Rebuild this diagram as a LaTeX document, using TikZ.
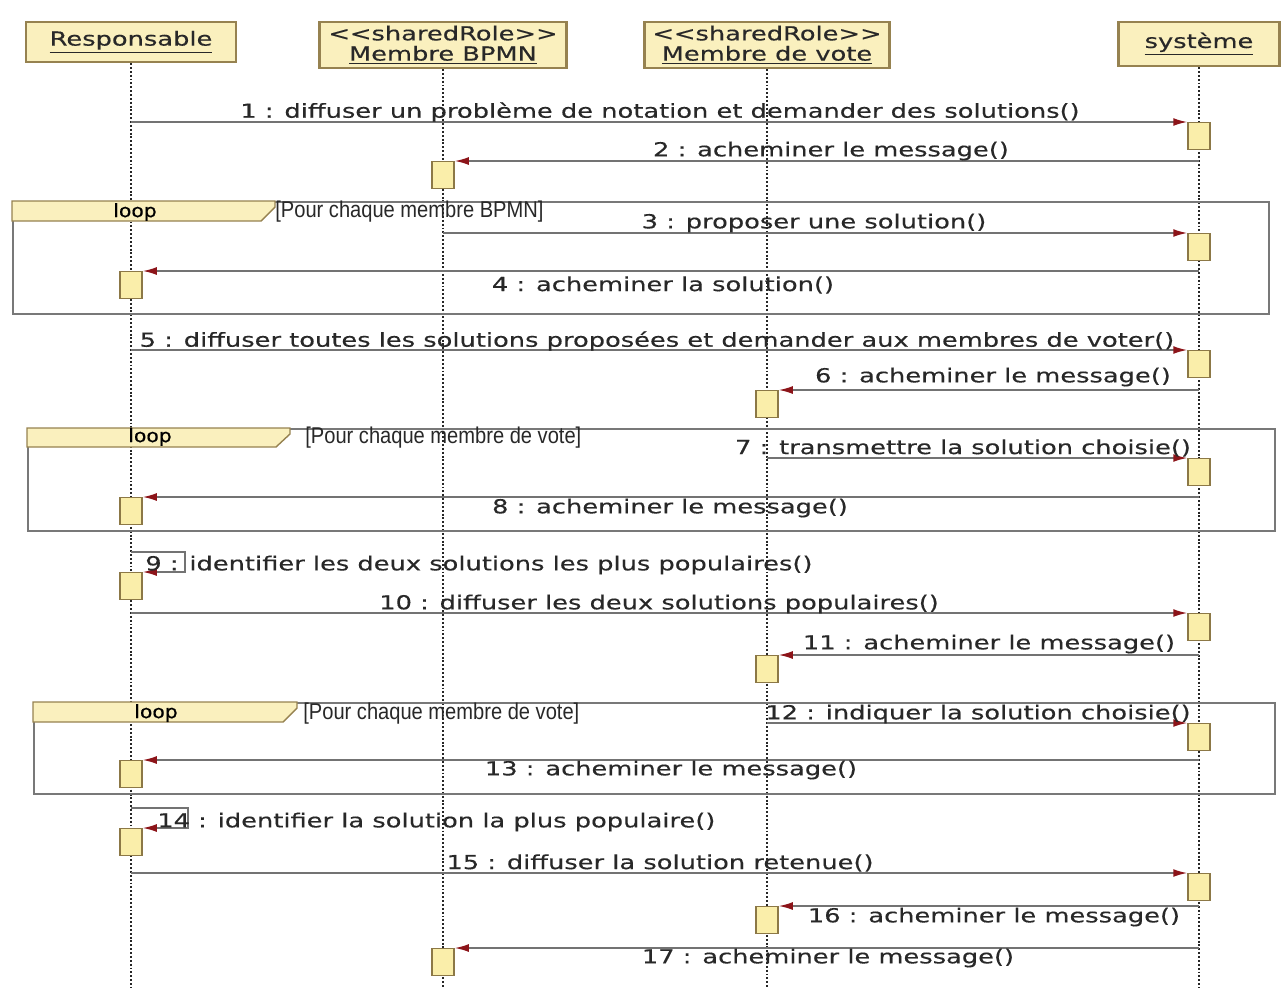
\documentclass[tikz,border=0pt]{standalone}
\usepackage{fontspec}
\usetikzlibrary{arrows.meta}
\newfontfamily\msgfont[FakeStretch=1.33,FakeBold=0.35]{DejaVu Sans}
\newfontfamily\loopfont[FakeStretch=1.1,FakeBold=0.6]{DejaVu Sans}
\newfontfamily\guardfont[FakeStretch=0.88]{Liberation Sans}
\definecolor{hdrfill}{RGB}{250,240,190}
\definecolor{hdrline}{RGB}{150,130,80}
\definecolor{actfill}{RGB}{250,238,170}
\definecolor{actline}{RGB}{140,120,70}
\definecolor{msgline}{RGB}{115,115,115}
\definecolor{tipred}{RGB}{140,20,25}
\definecolor{framegray}{RGB}{120,120,120}
\definecolor{txt}{RGB}{40,40,40}
\begin{document}
\begin{tikzpicture}[x=0.02cm, y=-0.02cm,
  hdr/.style={draw=hdrline, line width=1.2pt, fill=hdrfill, inner sep=0pt, align=center,
    font=\msgfont\fontsize{11}{12.5}\selectfont, text=txt},
  lifeline/.style={draw=black!85, line width=1.1pt, dash pattern=on 1.1pt off 1.1pt},
  act/.style={draw=actline, line width=0.8pt, fill=actfill, minimum width=0.44cm,
    minimum height=0.54cm, inner sep=0pt, anchor=north},
  msg/.style={draw=msgline, line width=0.9pt, -{Latex[length=8pt,width=4.5pt,color=tipred]}},
  lbl/.style={font=\msgfont\fontsize{11}{12}\selectfont, text=txt, inner sep=0pt},
  guard/.style={font=\guardfont\fontsize{13}{15}\selectfont, text=txt, inner sep=0pt, anchor=west},
  looplbl/.style={font=\loopfont\fontsize{10.5}{12}\selectfont, text=black, inner sep=0pt},
  frm/.style={draw=framegray, line width=1pt, inner sep=0pt, anchor=north west},
  tabshape/.style={fill=hdrfill, draw=hdrline, line width=0.8pt}
]
\useasboundingbox (0,0) rectangle (1284,988);

% participants
\node[hdr, minimum width=4.2cm, minimum height=0.8cm] (hResp) at (131,42) {\underline{Responsable}};
\node[hdr, minimum width=4.94cm, minimum height=0.92cm] (hBpmn) at (443,45) {<<sharedRole>>\\[-1pt]\underline{Membre BPMN}};
\node[hdr, minimum width=4.9cm, minimum height=0.92cm] (hVote) at (767,45) {<<sharedRole>>\\[-1pt]\underline{Membre de vote}};
\node[hdr, minimum width=3.22cm, minimum height=0.88cm] (hSys) at (1199,44) {\underline{système}};

% lifelines
\coordinate (eResp) at (131,988);
\coordinate (eBpmn) at (443,988);
\coordinate (eVote) at (767,988);
\coordinate (eSys) at (1199,988);
\draw[lifeline] (hResp.south) -- (eResp);
\draw[lifeline] (hBpmn.south) -- (eBpmn);
\draw[lifeline] (hVote.south) -- (eVote);
\draw[lifeline] (hSys.south) -- (eSys);

% combined fragments
\node[frm, minimum width=25.12cm, minimum height=2.24cm] (loopA) at (12,201) {};
\node[frm, minimum width=24.94cm, minimum height=2.04cm] (loopB) at (27,428) {};
\node[frm, minimum width=24.82cm, minimum height=1.82cm] (loopC) at (33,702) {};
\draw[tabshape] (loopA.north west) -- ++(263,0) -- ++(0,6) -- ++(-14,14) -- ++(-249,0) -- cycle;
\draw[tabshape] (loopB.north west) -- ++(263,0) -- ++(0,6) -- ++(-14,13) -- ++(-249,0) -- cycle;
\draw[tabshape] (loopC.north west) -- ++(264,0) -- ++(0,6) -- ++(-14,14) -- ++(-250,0) -- cycle;
\node[looplbl] (kA) at (135,212) {loop};
\node[looplbl] (kB) at (150,437) {loop};
\node[looplbl] (kC) at (156,713) {loop};
\node[guard] (gA) at (275,212) {[Pour chaque membre BPMN]};
\node[guard] (gB) at (305,438) {[Pour chaque membre de vote]};
\node[guard] (gC) at (303,714) {[Pour chaque membre de vote]};

% message origins on the lifelines
\coordinate (s1) at (131,122);
\coordinate (s2) at (1199,161);
\coordinate (s3) at (443,233);
\coordinate (s4) at (1199,271);
\coordinate (s5) at (131,350);
\coordinate (s6) at (1199,390);
\coordinate (s7) at (767,458);
\coordinate (s8) at (1199,497);
\coordinate (s9) at (131,552);
\coordinate (s10) at (131,613);
\coordinate (s11) at (1199,655);
\coordinate (s12) at (767,723);
\coordinate (s13) at (1199,760);
\coordinate (s14) at (131,808);
\coordinate (s15) at (131,873);
\coordinate (s16) at (1199,906);
\coordinate (s17) at (1199,948);

% activations
\node[act] (a1) at (1199,122) {};
\node[act] (a2) at (443,161) {};
\node[act] (a3) at (1199,233) {};
\node[act] (a4) at (131,271) {};
\node[act] (a5) at (1199,350) {};
\node[act] (a6) at (767,390) {};
\node[act] (a7) at (1199,458) {};
\node[act] (a8) at (131,497) {};
\node[act] (a9) at (131,572) {};
\node[act] (a10) at (1199,613) {};
\node[act] (a11) at (767,655) {};
\node[act] (a12) at (1199,723) {};
\node[act] (a13) at (131,760) {};
\node[act] (a14) at (131,828) {};
\node[act] (a15) at (1199,873) {};
\node[act] (a16) at (767,906) {};
\node[act] (a17) at (443,948) {};

% messages
\draw[msg] (s1) -- (a1.north west);
\draw[msg] (s2) -- (a2.north east);
\draw[msg] (s3) -- (a3.north west);
\draw[msg] (s4) -- (a4.north east);
\draw[msg] (s5) -- (a5.north west);
\draw[msg] (s6) -- (a6.north east);
\draw[msg] (s7) -- (a7.north west);
\draw[msg] (s8) -- (a8.north east);
\draw[msg] (s9) -- ++(54,0) |- (a9.north east);
\draw[msg] (s10) -- (a10.north west);
\draw[msg] (s11) -- (a11.north east);
\draw[msg] (s12) -- (a12.north west);
\draw[msg] (s13) -- (a13.north east);
\draw[msg] (s14) -- ++(57,0) |- (a14.north east);
\draw[msg] (s15) -- (a15.north west);
\draw[msg] (s16) -- (a16.north east);
\draw[msg] (s17) -- (a17.north east);

% message labels
\node[lbl] (t1) at (660,112) {1 : diffuser un problème de notation et demander des solutions()};
\node[lbl] (t2) at (831,151) {2 : acheminer le message()};
\node[lbl] (t3) at (814,223) {3 : proposer une solution()};
\node[lbl] (t4) at (663,285) {4 : acheminer la solution()};
\node[lbl] (t5) at (657,341) {5 : diffuser toutes les solutions proposées et demander aux membres de voter()};
\node[lbl] (t6) at (993,377) {6 : acheminer le message()};
\node[lbl] (t7) at (963,448) {7 : transmettre la solution choisie()};
\node[lbl] (t8) at (670,508) {8 : acheminer le message()};
\node[lbl, anchor=west] (t9) at (145,565) {9 : identifier les deux solutions les plus populaires()};
\node[lbl] (t10) at (659,604) {10 : diffuser les deux solutions populaires()};
\node[lbl] (t11) at (989,644) {11 : acheminer le message()};
\node[lbl] (t12) at (978,714) {12 : indiquer la solution choisie()};
\node[lbl] (t13) at (671,770) {13 : acheminer le message()};
\node[lbl, anchor=west] (t14) at (157,822) {14 : identifier la solution la plus populaire()};
\node[lbl] (t15) at (660,863) {15 : diffuser la solution retenue()};
\node[lbl] (t16) at (994,917) {16 : acheminer le message()};
\node[lbl] (t17) at (828,958) {17 : acheminer le message()};
\end{tikzpicture}
\end{document}
